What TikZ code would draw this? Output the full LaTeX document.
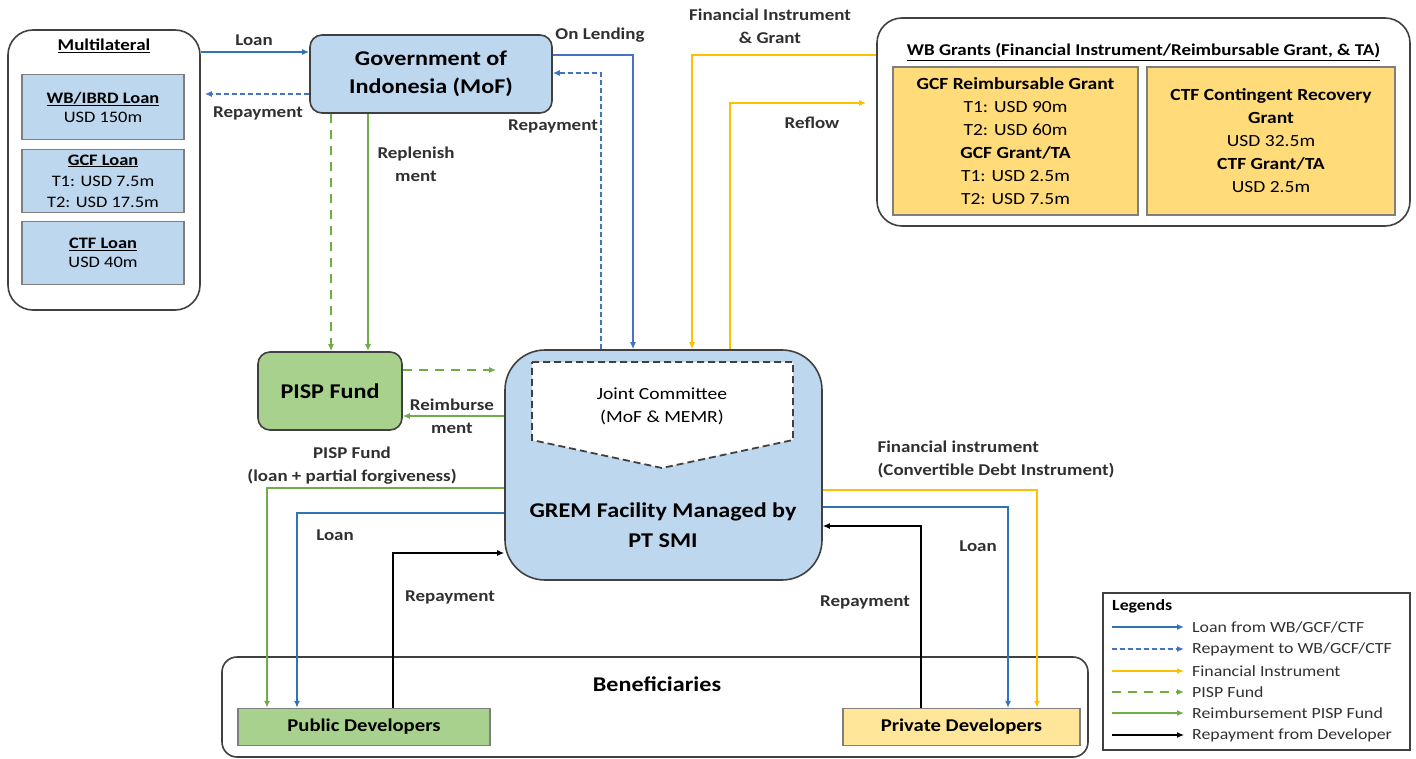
\documentclass[tikz,border=0pt]{standalone}
\usepackage{fontspec}
\setmainfont{Carlito}[FakeStretch=1.15]
\usetikzlibrary{arrows.meta}

\definecolor{boxline}{HTML}{404040}
\definecolor{subline}{HTML}{7F7F7F}
\definecolor{bluefill}{HTML}{BDD7EE}
\definecolor{greenfill}{HTML}{A9D18E}
\definecolor{goldfill}{HTML}{FFDC79}
\definecolor{paleyellow}{HTML}{FFE699}
\definecolor{loanblue}{HTML}{2E75B6}
\definecolor{lendblue}{HTML}{4472C4}
\definecolor{pispgreen}{HTML}{70AD47}
\definecolor{fingold}{HTML}{FFC000}
\definecolor{labeltext}{HTML}{303030}

\begin{document}
\begin{tikzpicture}[x=1pt,y=-1pt,
  box/.style={draw=boxline, line width=1.6pt, rounded corners=12pt, align=center, inner sep=0pt},
  subbox/.style={draw=subline, line width=1.3pt, align=center, inner sep=0pt},
  lbl/.style={font=\fontsize{16.5}{23}\selectfont\bfseries, text=labeltext, align=center},
  tip/.style={-{Latex[length=7pt,width=6pt]}},
  loan/.style={draw=loanblue, line width=1.8pt, tip},
  lend/.style={draw=lendblue, line width=1.8pt, tip},
  repay/.style={draw=lendblue, line width=1.8pt, dash pattern=on 5pt off 3pt, tip},
  fin/.style={draw=fingold, line width=2pt, tip},
  pispfund/.style={draw=pispgreen, line width=1.8pt, dash pattern=on 9pt off 7pt, tip},
  reimb/.style={draw=pispgreen, line width=1.8pt, tip},
  devrepay/.style={draw=black, line width=1.2pt, tip},
  legtext/.style={font=\fontsize{15.5}{18}\selectfont, text=labeltext, anchor=west, inner sep=0pt}]

\useasboundingbox (0,0) rectangle (1416,759);
%\draw [step=100, dotted] (0,0) grid (1416,759);

% multilateral
\node [box, rounded corners=25pt, minimum width=192, minimum height=280] (mul) at (104,170) {};
\node [font=\fontsize{16.5}{20}\selectfont\bfseries] (multitle) at (104,46) {\underline{Multilateral}};
\node [subbox, fill=bluefill, minimum width=162, minimum height=65, font=\fontsize{16}{19}\selectfont] (ibrd) at (103,107)
  {{\bfseries\underline{WB/IBRD Loan}}\\USD 150m};
\node [subbox, fill=bluefill, minimum width=162, minimum height=63, font=\fontsize{16}{21}\selectfont] (gcfloan) at (103,181)
  {{\bfseries\underline{GCF Loan}}\\T1: USD 7.5m\\T2: USD 17.5m};
\node [subbox, fill=bluefill, minimum width=162, minimum height=63, font=\fontsize{16}{19}\selectfont] (ctfloan) at (103,253)
  {{\bfseries\underline{CTF Loan}}\\USD 40m};

% government, pisp, grem
\node [box, fill=bluefill, minimum width=242, minimum height=78, font=\fontsize{21}{28}\selectfont\bfseries] (gov) at (431,74)
  {Government of\\Indonesia (MoF)};
\node [box, fill=greenfill, minimum width=144, minimum height=78, font=\fontsize{21}{24}\selectfont\bfseries] (pisp) at (330,391)
  {PISP Fund};
\node [box, fill=bluefill, rounded corners=40pt, minimum width=317, minimum height=230] (grem) at (663.5,465) {};
\draw [draw=boxline, line width=1.8pt, dash pattern=on 7pt off 4pt, fill=white]
  (532,362) -- (793,362) -- (793,440) -- (662,468) -- (532,440) -- cycle;
\node [font=\fontsize{17}{23}\selectfont, align=center] (jc) at (662,406) {Joint Committee\\(MoF \& MEMR)};
\node [font=\fontsize{21}{30}\selectfont\bfseries, align=center] (gremtitle) at (663,525)
  {GREM Facility Managed by\\PT SMI};

% wb grants
\node [box, rounded corners=25pt, minimum width=533, minimum height=208] (wbg) at (1143.5,122) {};
\node [font=\fontsize{16.5}{20}\selectfont\bfseries] (wbtitle) at (1143.5,52)
  {\underline{WB Grants (Financial Instrument/Reimbursable Grant, \& TA)}};
\node [subbox, fill=goldfill, minimum width=245, minimum height=148, font=\fontsize{17}{23}\selectfont] (gcfgrant) at (1015.5,141)
  {{\bfseries GCF Reimbursable Grant}\\T1: USD 90m\\T2: USD 60m\\{\bfseries GCF Grant/TA}\\T1: USD 2.5m\\T2: USD 7.5m};
\node [subbox, fill=goldfill, minimum width=248, minimum height=148, font=\fontsize{17}{23}\selectfont] (ctfgrant) at (1271,141)
  {{\bfseries CTF Contingent Recovery}\\{\bfseries Grant}\\USD 32.5m\\{\bfseries CTF Grant/TA}\\USD 2.5m};

% beneficiaries
\node [box, rounded corners=15pt, minimum width=866, minimum height=100] (ben) at (655,707) {};
\node [font=\fontsize{21}{24}\selectfont\bfseries] (bentitle) at (657,684) {Beneficiaries};
\node [subbox, fill=greenfill, minimum width=252, minimum height=37, font=\fontsize{18}{21}\selectfont\bfseries] (pub) at (364,727)
  {Public Developers};
\node [subbox, fill=paleyellow, minimum width=237, minimum height=37, font=\fontsize{18}{21}\selectfont\bfseries] (priv) at (961.5,727)
  {Private Developers};

% flows at the top
\draw [loan] (mul.east |- 0,52) -- (gov.west |- 0,52);
\draw [repay] (gov.west |- 0,94) -- ([xshift=4pt]mul.east |- 0,94);
\draw [lend] (gov.east |- 0,55) -| (grem.north -| 633,0);
\draw [repay] (grem.north -| 601,0) |- (gov.east |- 0,73);
\draw [pispfund] (gov.south -| 331,0) -- (pisp.north -| 331,0);
\draw [reimb] (gov.south -| 368,0) -- (pisp.north -| 368,0);
\draw [pispfund] (pisp.east |- 0,370) -- ([xshift=-8pt]grem.west |- 0,370);
\draw [reimb] (grem.west |- 0,416) -- (pisp.east |- 0,416);
\draw [fin] (wbg.west |- 0,55) -| (grem.north -| 692,0);
\draw [fin] (grem.north -| 730,0) |- ([xshift=-10pt]wbg.west |- 0,103);

% flows to the developers
\draw [reimb] (grem.west |- 0,488) -| (pub.north -| 267,0);
\draw [loan] (grem.west |- 0,513) -| (pub.north -| 297,0);
\draw [devrepay] (pub.north -| 393,0) |- (grem.west |- 0,553);
\draw [fin] (grem.east |- 0,490) -| (priv.north -| 1037,0);
\draw [loan] (grem.east |- 0,507) -| (priv.north -| 1008,0);
\draw [devrepay] (priv.north -| 921,0) |- (grem.east |- 0,526);

% labels
\node [lbl] (l1) at (254,40) {Loan};
\node [lbl] (l2) at (258,113) {Repayment};
\node [lbl] (l3) at (600,35) {On Lending};
\node [lbl] (l4) at (553,126) {Repayment};
\node [lbl] (l5) at (416,164) {Replenish\\ment};
\node [lbl] (l6) at (770,26) {Financial Instrument\\\& Grant};
\node [lbl] (l7) at (812,123) {Reflow};
\node [lbl] (l8) at (452,416) {Reimburse\\ment};
\node [lbl] (l9) at (352,466) {PISP Fund\\(loan + partial forgiveness)};
\node [lbl] (l10) at (335,535) {Loan};
\node [lbl] (l11) at (450,597) {Repayment};
\node [lbl, align=left, anchor=west] (l12) at (874,459) {Financial instrument\\(Convertible Debt Instrument)};
\node [lbl] (l13) at (978,546) {Loan};
\node [lbl] (l14) at (865,602) {Repayment};

% legend
\node [draw=boxline, line width=1.3pt, minimum width=307, minimum height=157, inner sep=0pt] (leg) at (1256.5,671.5) {};
\node [legtext, font=\fontsize{15.5}{18}\selectfont\bfseries, text=black] (legtitle) at (1112,606) {Legends};
\node [legtext] (k1) at (1192,627) {Loan from WB/GCF/CTF};
\node [legtext] (k2) at (1192,649) {Repayment to WB/GCF/CTF};
\node [legtext] (k3) at (1192,671) {Financial Instrument};
\node [legtext] (k4) at (1192,692) {PISP Fund};
\node [legtext] (k5) at (1192,713) {Reimbursement PISP Fund};
\node [legtext] (k6) at (1192,735) {Repayment from Developer};
\draw [loan] ([xshift=10pt]leg.west |- k1.west) -- ([xshift=-8pt]k1.west);
\draw [repay] ([xshift=10pt]leg.west |- k2.west) -- ([xshift=-8pt]k2.west);
\draw [fin] ([xshift=10pt]leg.west |- k3.west) -- ([xshift=-8pt]k3.west);
\draw [pispfund] ([xshift=10pt]leg.west |- k4.west) -- ([xshift=-8pt]k4.west);
\draw [reimb] ([xshift=10pt]leg.west |- k5.west) -- ([xshift=-8pt]k5.west);
\draw [devrepay] ([xshift=10pt]leg.west |- k6.west) -- ([xshift=-8pt]k6.west);

\end{tikzpicture}
\end{document}
